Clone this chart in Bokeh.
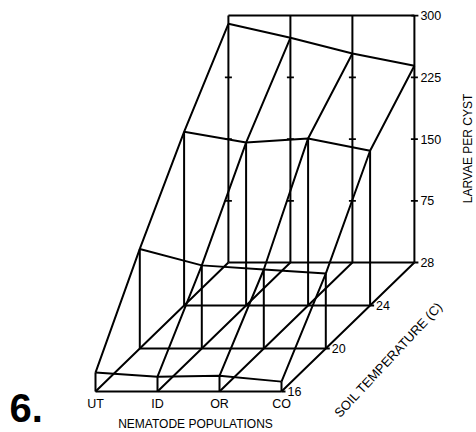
import numpy as np
from bokeh.plotting import figure
from bokeh.models import Range1d
from bokeh.core.properties import value
from bokeh.embed import file_html
from bokeh.resources import INLINE

# ---- data ----
populations = ["UT", "ID", "OR", "CO"]
temperatures = [16, 20, 24, 28]
larvae_16 = [23, 18, 19, 12]
larvae_20 = [121, 101, 96, 91]
larvae_24 = [211, 198, 203, 188]
larvae_28 = [290, 273, 254, 239]
z_ticks = [75, 150, 225, 300]
z_max = 300

surface = [larvae_16, larvae_20, larvae_24, larvae_28]

# ---- oblique projection (screen pixel space) ----
ORIGIN_X, ORIGIN_Y = 95.0, 391.0
POP_DX = 62.0
TEMP_DX, TEMP_DY = 44.3, -43.0
Z_SCALE = 0.823


def proj(pi, temp, z):
    t = (temp - temperatures[0]) / 4.0
    return ORIGIN_X + pi * POP_DX + t * TEMP_DX, ORIGIN_Y + t * TEMP_DY - z * Z_SCALE


FONT = value("Liberation Sans")
TICK_FS = "12.5px"

W, H = 476, 432
p = figure(width=W, height=H, x_range=Range1d(0, W), y_range=Range1d(H, 0),
           output_backend="svg", toolbar_location=None,
           x_axis_location=None, y_axis_location=None, min_border=0)
p.grid.visible = False
p.outline_line_color = None
p.background_fill_color = "white"

xs, ys = [], []


def add(pts):
    xx, yy = zip(*pts)
    xs.append(list(xx))
    ys.append(list(yy))


n_p = len(populations)
# base grid
for ti, t in enumerate(temperatures):
    add([proj(pi, t, 0) for pi in range(n_p)])
for pi in range(n_p):
    add([proj(pi, t, 0) for t in temperatures])
# surface rows and columns
for ti, t in enumerate(temperatures):
    add([proj(pi, t, surface[ti][pi]) for pi in range(n_p)])
for pi in range(n_p):
    add([proj(pi, t, surface[ti][pi]) for ti, t in enumerate(temperatures)])
# vertical drops
for ti, t in enumerate(temperatures[:-1]):
    for pi in range(n_p):
        add([proj(pi, t, 0), proj(pi, t, surface[ti][pi])])
# back wall
for pi in range(n_p):
    add([proj(pi, temperatures[-1], 0), proj(pi, temperatures[-1], z_max)])
add([proj(pi, temperatures[-1], z_max) for pi in range(n_p)])

p.multi_line(xs, ys, line_color="black", line_width=2)

# tick crosses on back wall verticals
tx0, tx1, ty = [], [], []
for pi in range(n_p):
    for z in z_ticks[:-1]:
        x, y = proj(pi, temperatures[-1], z)
        tx0.append(x - 3.5); tx1.append(x + 3.5); ty.append(y)
x, y = proj(n_p - 1, temperatures[-1], z_max)
tx0.append(x - 3); tx1.append(x + 4); ty.append(y)
p.segment(x0=tx0, y0=ty, x1=tx1, y1=ty, line_color="black", line_width=1.8)

# temperature ticks at right base
bx0, bx1, by = [], [], []
for t in temperatures:
    x, y = proj(n_p - 1, t, 0)
    bx0.append(x); bx1.append(x + 4); by.append(y)
p.segment(x0=bx0, y0=by, x1=bx1, y1=by, line_color="black", line_width=2.2)

# z tick labels
zl_x, zl_y = [], []
for z in z_ticks:
    x, y = proj(n_p - 1, temperatures[-1], z)
    zl_x.append(x + 6); zl_y.append(y)
p.text(x=zl_x, y=zl_y, text=[str(z) for z in z_ticks], text_font=FONT,
       text_font_size=TICK_FS, text_baseline="middle", text_align="left", text_color="black")

# temperature labels
tl_x, tl_y = [], []
for t in temperatures:
    x, y = proj(n_p - 1, t, 0)
    tl_x.append(x + 6); tl_y.append(y)
p.text(x=tl_x, y=tl_y, text=[str(t) for t in temperatures], text_font=FONT,
       text_font_size=TICK_FS, text_baseline="middle", text_align="left", text_color="black")

# population labels
pl_x, pl_y = [], []
for pi in range(n_p):
    x, y = proj(pi, temperatures[0], 0)
    pl_x.append(x); pl_y.append(y + 12)
p.text(x=pl_x, y=pl_y, text=populations, text_font=FONT,
       text_font_size=TICK_FS, text_baseline="middle", text_align="center", text_color="black")

# axis titles
p.text(x=[195], y=[423], text=["NEMATODE POPULATIONS"], text_font=FONT,
       text_font_size="12px", text_baseline="middle", text_align="center", text_color="black")
p.text(x=[388], y=[359], text=["SOIL TEMPERATURE (C)"], text_font=FONT,
       text_font_size="13px", text_baseline="middle", text_align="center",
       angle=47, angle_units="deg", text_color="black")
p.text(x=[467], y=[148], text=["LARVAE PER CYST"], text_font=FONT,
       text_font_size="12px", text_baseline="middle", text_align="center",
       angle=90, angle_units="deg", text_color="black")

# figure number
p.text(x=[9], y=[407], text=["6."], text_font=FONT, text_font_style="bold",
       text_font_size="40px", text_baseline="middle", text_align="left", text_color="black")

open("out.html", "w").write(file_html(p, INLINE))
